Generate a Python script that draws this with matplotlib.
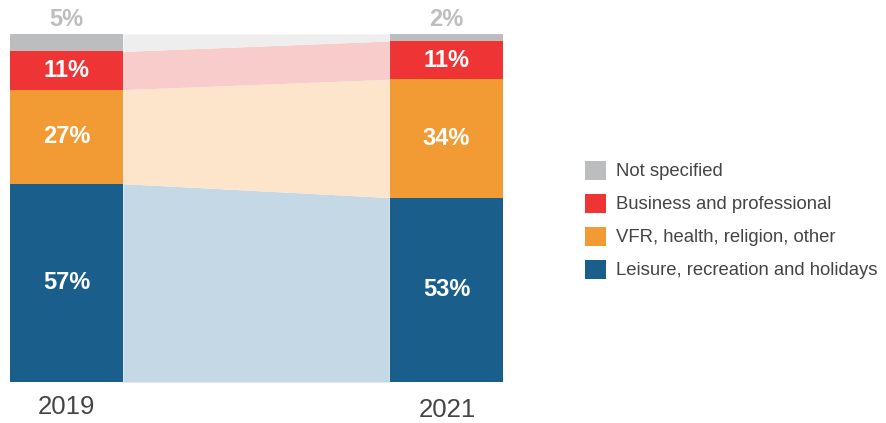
import matplotlib.pyplot as plt
import numpy as np
from matplotlib.patches import Patch

plt.rcParams['font.family'] = ['Liberation Sans', 'DejaVu Sans']

years = ['2019', '2021']
categories = ['Leisure, recreation and holidays', 'VFR, health, religion, other',
              'Business and professional', 'Not specified']
shares_2019 = [57, 27, 11, 5]
shares_2021 = [53, 34, 11, 2]

dark = ['#1A5F8C', '#F29B34', '#EE3434', '#BCBDBF']
light = ['#C5D8E5', '#FCE5CB', '#F9CCCC', '#EEEEEE']

fig = plt.figure(figsize=(8.87, 4.23), dpi=100)
ax = fig.add_axes([10/887, 41/423, 493/887, 348/423])

w = 113/380.5
xs = np.array([0, 1])
vals = np.array([shares_2019, shares_2021])
bottoms = np.zeros(2)

for i, cat in enumerate(categories):
    v = vals[:, i]
    # connecting band between the bars
    x0, x1 = w/2, 1 - w/2
    ax.fill_between([x0, x1], [bottoms[0], bottoms[1]], [bottoms[0]+v[0], bottoms[1]+v[1]],
                    color=light[i], lw=0, zorder=1)
    ax.bar(xs, v, bottom=bottoms, width=w, color=dark[i], lw=0, zorder=2)
    for j in range(2):
        if cat == 'Not specified':
            ax.text(xs[j], 100 + 0.8, f'{v[j]}%', ha='center', va='bottom',
                    color='#BCBDBF', fontsize=17, fontweight='bold')
        else:
            ax.text(xs[j], bottoms[j] + v[j]/2, f'{v[j]}%', ha='center', va='center',
                    color='white', fontsize=17, fontweight='bold')
    bottoms = bottoms + v

# thin white gap at left edge of second bar
ax.axvline(1 - w/2, color='white', lw=1, zorder=1.5)

ax.set_xlim(-w/2, 1 + w/2)
ax.set_ylim(0, 100)
ax.axis('off')

fig.text(66/887, 1 - 407/423, years[0], ha='center', va='center', fontsize=18.5, color='#444444')
fig.text(447/887, 1 - 410/423, years[1], ha='center', va='center', fontsize=18.5, color='#444444')

handles = [Patch(facecolor=dark[i], label=categories[i]) for i in range(3, -1, -1)]
fig.legend(handles=handles, loc='center left', bbox_to_anchor=(568/887, 1 - 220/423),
           frameon=False, fontsize=13.3, handlelength=1.15, handleheight=1.2,
           handletextpad=0.55, labelspacing=0.72, labelcolor='#444444')

fig.savefig('out.png', dpi=100)
